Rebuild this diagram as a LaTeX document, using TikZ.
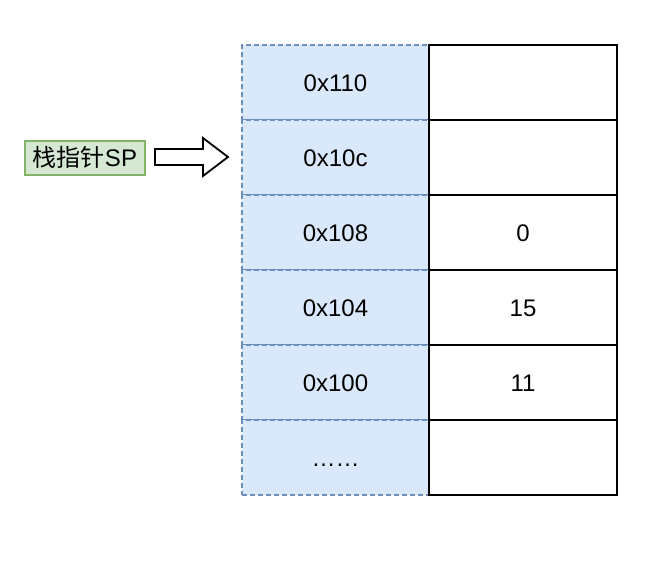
\documentclass[tikz,border=0pt]{standalone}
\usepackage{fontspec}
\setmainfont{Liberation Sans}
\newfontfamily\cjk{Noto Sans CJK SC}
\definecolor{addrfill}{HTML}{DAE8FC}
\definecolor{addrline}{HTML}{6C8EBF}
\definecolor{spfill}{HTML}{D5E8D4}
\definecolor{spline}{HTML}{82B366}

\begin{document}
\begin{tikzpicture}[x=0.5pt,y=-0.5pt,
        cell/.style={inner sep=0pt,minimum height=37.5pt,text height=8.6pt,text depth=0pt,font=\fontsize{12}{14}\selectfont},
        addrcell/.style={cell,draw=addrline,fill=addrfill,line width=0.6pt,dash pattern=on 2.5pt off 1.5pt,minimum width=93.5pt},
        valcell/.style={cell,draw=black,line width=0.9pt,minimum width=94pt},
        splabel/.style={draw=spline,fill=spfill,line width=0.7pt,inner sep=0pt,minimum width=60pt,minimum height=17pt,text height=8.6pt,text depth=0pt,font=\fontsize{12}{14}\selectfont}]
        \useasboundingbox (0, 0) rectangle (647, 565);
        % stack cells: address on the left, value on the right
        \foreach \i/\addr in {0/0x110, 1/0x10c, 2/0x108, 3/0x104, 4/0x100, 5/……} {
            \node[addrcell] (a\i) at (335.5, 82.5 + 75*\i) {\addr};
        }
        \foreach \i/\val in {0/, 1/, 2/0, 3/15, 4/11, 5/} {
            \node[valcell] (v\i) at (523, 82.5 + 75*\i) {\val};
        }
        % stack pointer
        \node[splabel] (sp) at (85, 158) {{\cjk 栈指针}SP};
        \draw[line width=0.9pt, fill=white, line join=miter] (155, 149) -- (203, 149) -- (203, 138) -- (228, 157) -- (203, 176) -- (203, 165) -- (155, 165) -- cycle;
    \end{tikzpicture}
\end{document}
